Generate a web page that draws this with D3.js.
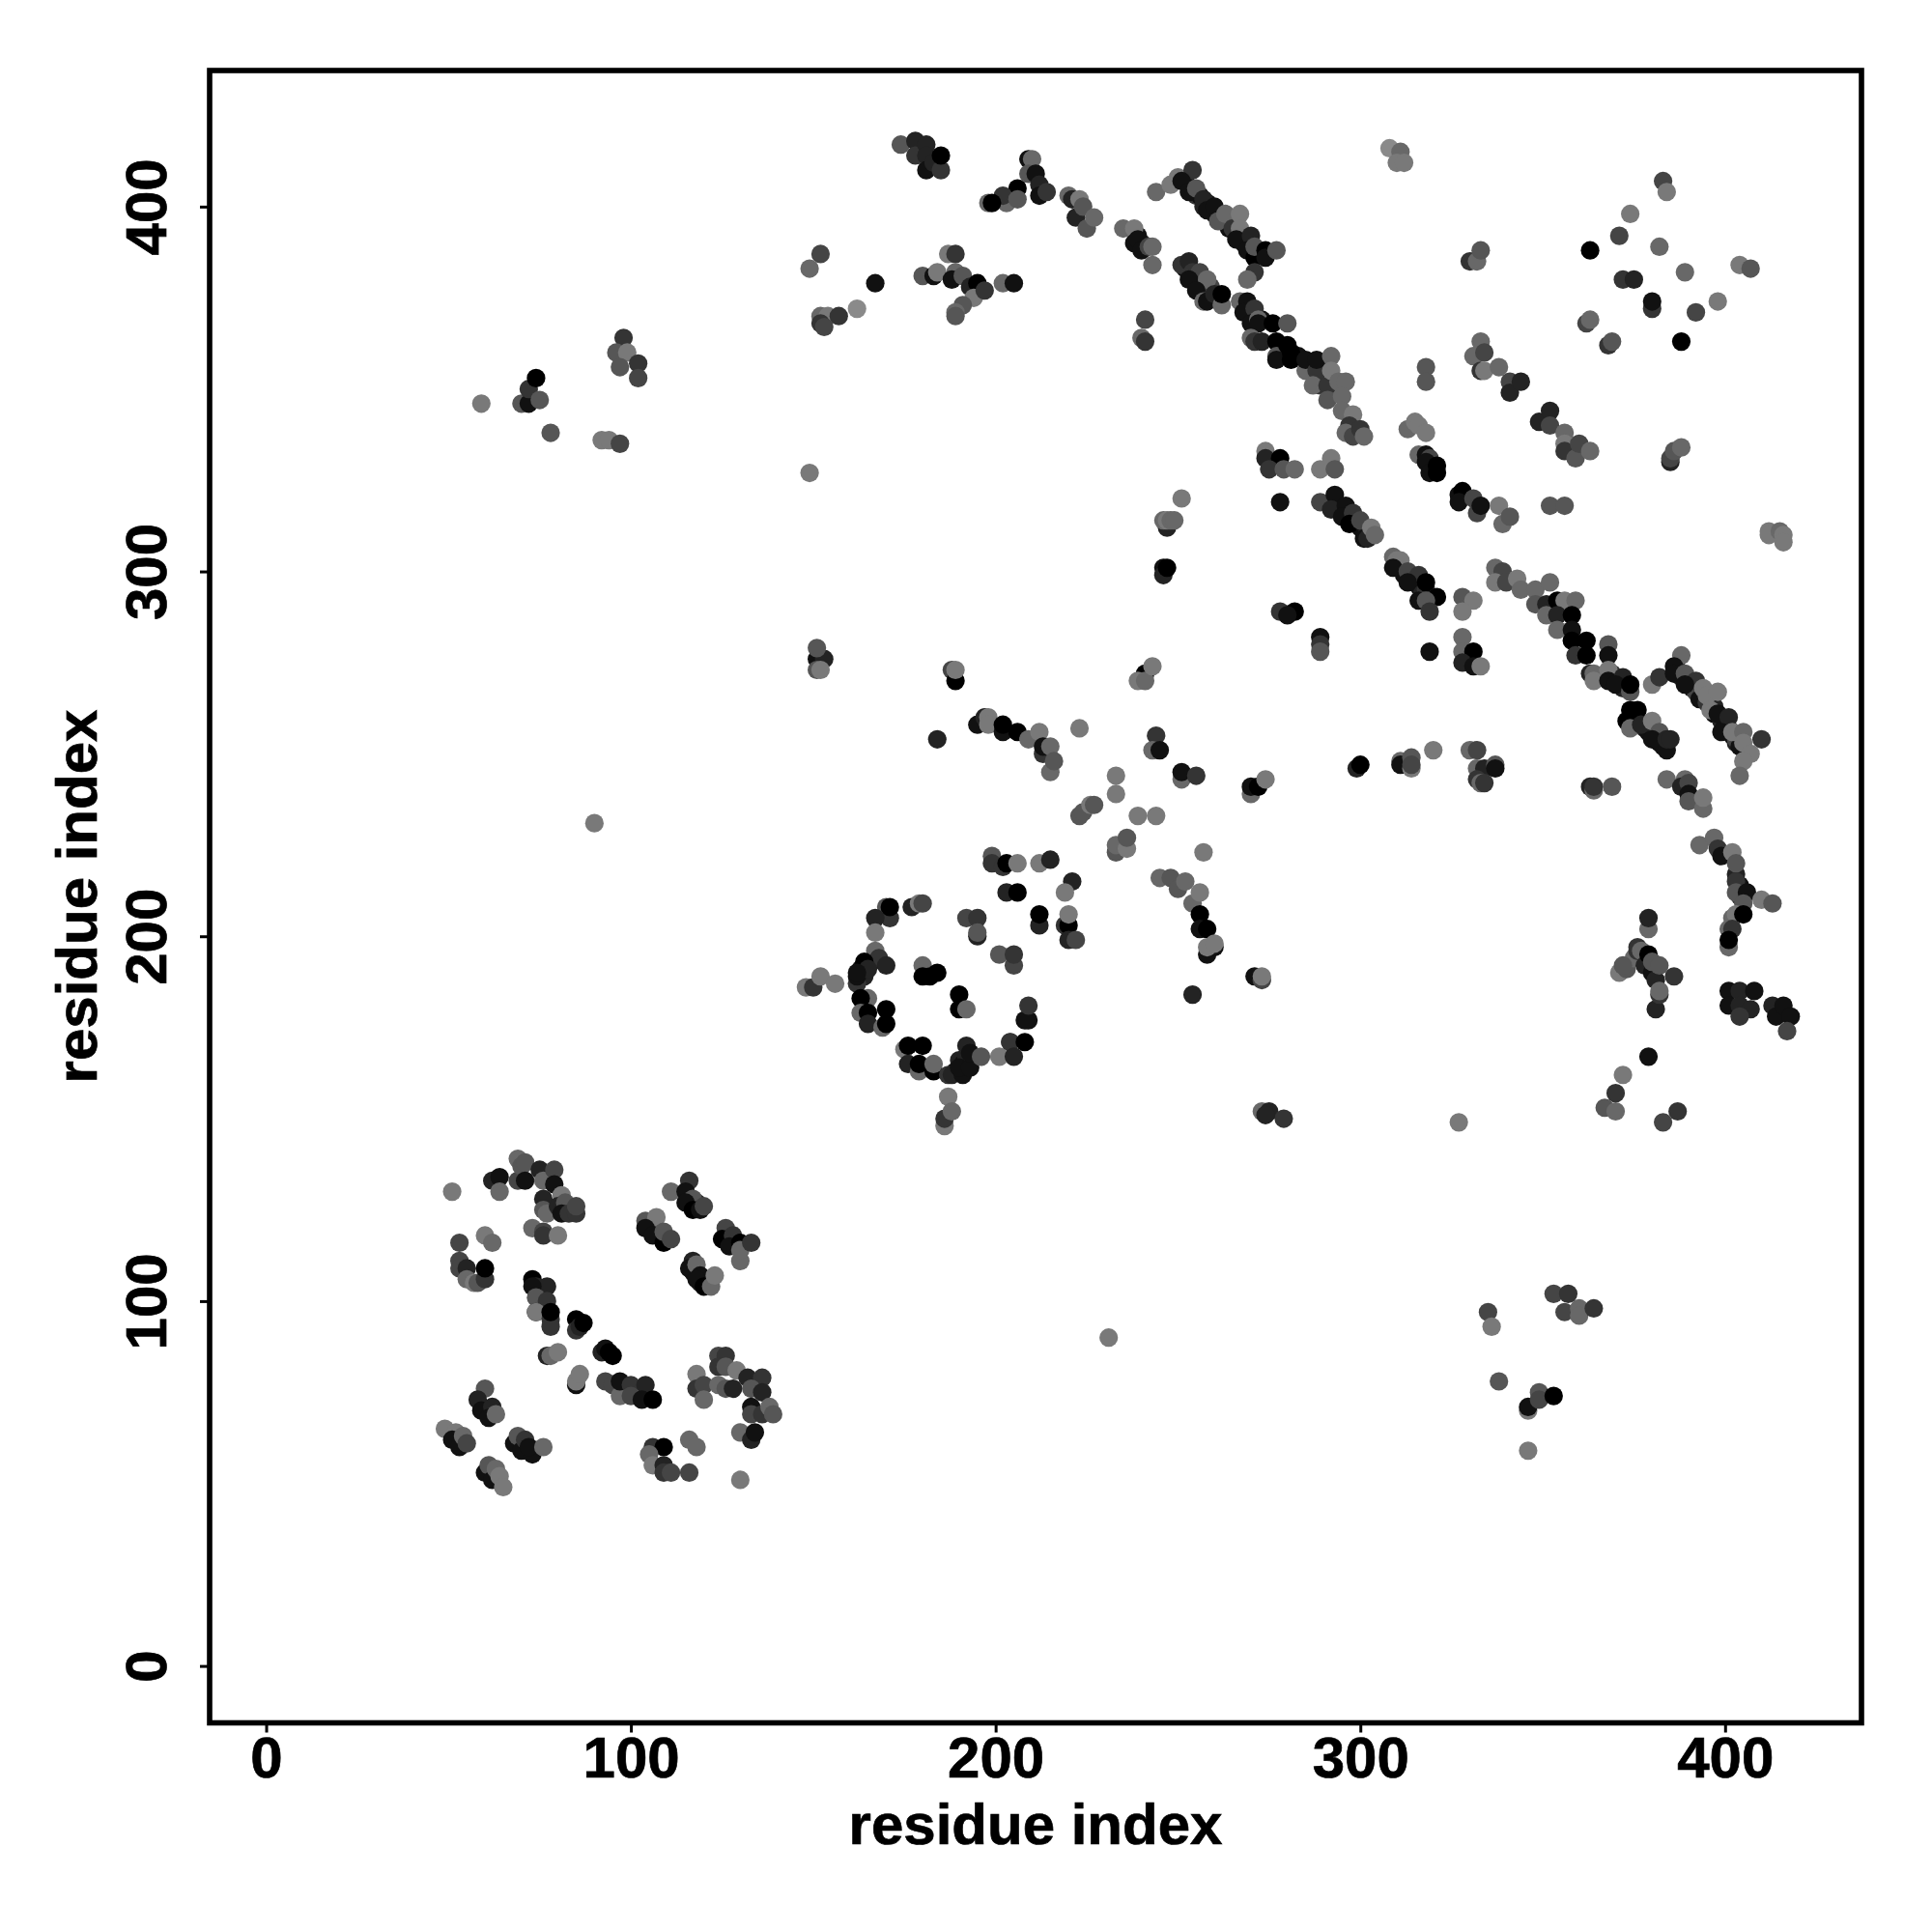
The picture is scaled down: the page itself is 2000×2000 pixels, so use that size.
<!DOCTYPE html>
<html><head><meta charset="utf-8">
<script src="https://cdn.jsdelivr.net/npm/d3@7"></script>
<style>html,body{margin:0;padding:0;background:#fff}svg{display:block}</style>
</head><body><div id="chart"></div>
<script>
// each contact: [residue i, residue j, shade 0 (black) .. 8 (light gray)]
const bandCores=[[252,407,2],[254,405,1],[255,403,3],[256,403,1],[257,400,2],[258,401,1],[259,399,3],[260,398,1],[262,396,2],[264,394,1],[266,393,3],[268,390,1],[270,389,2],[272,387,1],[252,383,1],[254,381,2],[255,380,1],[257,378,1],[258,377,2],[259,378,4],[260,375,1],[239,392,1],[240,390,2],[241,389,1],[268,373,2],[270,371,1],[271,369,3],[273,369,1],[283,359,1],[286,357,2],[290,356,3],[290,353,1],[289,351,3],[293,350,5],[294,318,2],[296,316,1],[299,314,3],[300,312,1],[302,311,2],[311,301,2],[312,299,1],[314,298,3],[316,296,1],[317,294,2],[318,295,3],[366,271,1],[369,272,3],[371,270,1],[372,268,2],[375,261,0],[376,259,1],[378,257,2],[379,256,1],[381,255,3],[382,253,1],[383,252,1],[387,273,1],[388,271,2],[390,270,3],[391,268,1],[392,267,4],[393,265,1],[395,264,3],[397,263,2],[397,261,1],[399,259,2],[400,258,1],[401,257,3],[402,255,1],[403,253,2],[403,254,4],[404,252,1],[403,217,2],[404,214,1],[404,211,3],[189,163,1],[190,166,2],[191,165,1],[192,167,2],[163,191,1],[164,189,2],[166,193,1],[116,128,1],[118,127,2],[105,121,1],[107,119,2],[108,118,0],[126,118,1],[127,117,2],[129,116,1],[117,108,1],[119,105,2],[121,106,1]];
const lowerTopLeft=[[51,130,7],[62,133,2],[64,134,1],[64,130,6],[69,139,6],[69,133,4],[70,137,5],[71,138,5],[71,133,1],[75,136,2],[76,133,6],[79,136,4],[79,132,1],[76,128,2],[76,125,5],[77,124,6],[81,129,7],[80,126,2],[82,127,5],[81,124,1],[83,124,3],[85,124,3],[85,126,4],[73,120,6],[76,119,4],[76,118,3],[80,118,7]];
const lowerLeft=[[53,116,4],[60,118,7],[62,116,6],[53,111,4],[53,109,4],[55,109,2],[55,106,6],[57,105,7],[58,105,5],[60,106,3],[60,109,0]];
const lowerStem=[[73,106,0],[74,104,2],[77,104,2],[73,104,1],[74,101,5],[77,100,3],[74,97,1],[74,97,7],[78,95,3],[78,93,3],[78,97,0],[85,95,0],[85,92,3],[86,93,2],[87,94,0],[77,85,2],[78,85,6],[80,86,7],[85,77,1],[85,78,7],[86,80,7],[92,86,2],[93,87,1],[94,86,0],[95,85,0],[93,78,4],[95,77,4],[97,74,6],[97,78,1],[100,77,3],[100,74,4],[104,77,2],[103,73,1],[106,73,0]];
const lowerPairs=[[116,133,3],[111,130,6],[115,130,1],[117,128,5],[115,127,1],[117,125,0],[119,125,1],[120,126,4],[104,122,5],[107,123,7],[104,120,1],[106,118,1],[109,116,0],[109,119,5],[111,117,4],[126,120,4],[125,117,0],[128,118,3],[127,115,1],[130,116,0],[130,111,6],[130,114,6],[133,116,3],[117,111,2],[116,109,1],[118,110,6],[119,107,1],[118,106,1],[120,104,0],[122,104,6],[123,107,7]];
const lowerRight=[[124,85,4],[126,85,3],[124,82,3],[126,82,5],[129,81,7],[118,80,7],[118,76,3],[120,77,4],[120,73,6],[124,77,6],[126,76,5],[128,76,2],[132,79,2],[136,79,3],[133,76,5],[136,75,2],[133,71,1],[133,69,4],[136,69,3],[138,71,6],[139,69,5],[130,64,6],[133,62,2],[134,64,1],[130,51,7]];
const lowerCentre=[[106,60,3],[109,60,0],[105,58,6],[106,55,7],[109,55,2],[109,53,3],[111,53,4],[116,53,4],[116,62,6],[118,60,6]];
const lowerBottom=[[60,76,5],[58,73,2],[59,70,1],[62,71,2],[61,68,1],[63,69,6],[49,65,7],[52,64,7],[51,62,1],[53,60,1],[54,63,6],[55,61,4],[68,61,1],[69,63,5],[70,59,1],[71,62,3],[73,58,1],[72,60,1],[76,60,6],[60,53,1],[61,55,5],[62,51,1],[63,54,6],[64,52,7],[65,49,7]];
const farLeft=[[59,346,7],[70,346,5],[72,346,1],[72,350,3],[74,353,0],[75,347,5],[78,338,5],[98,364,3],[96,360,5],[99,360,7],[97,356,5],[102,357,3],[102,353,4],[92,336,7],[94,336,7],[97,335,4],[149,327,7],[90,231,7],[231,90,7],[327,149,7]];
const ringTop=[[151,276,1],[153,276,2],[151,279,5],[151,273,5],[152,273,7],[188,273,4],[189,270,0],[189,273,7],[241,272,0],[239,270,7],[241,270,6],[243,274,7],[184,254,2],[195,258,1],[197,260,2],[198,260,7],[198,258,7],[202,256,1],[202,258,0],[206,256,0],[209,254,6],[212,256,7],[213,250,3],[213,252,1],[215,252,6],[215,245,6],[216,248,5],[223,257,7],[244,255,3],[243,251,6],[245,251,1],[251,243,6],[251,245,1],[255,244,3],[270,239,6],[270,241,1],[272,241,0],[274,243,7],[233,244,7],[233,239,7],[239,233,7],[244,233,7],[223,233,5],[224,234,5],[226,236,7],[227,236,5],[233,223,5],[233,225,6],[236,224,7],[236,227,5],[257,223,7],[245,216,6],[248,216,5],[250,213,5],[252,215,6],[254,209,6],[256,212,7],[256,206,0],[256,202,1],[258,202,0],[258,195,1],[260,197,1],[258,197,7],[260,198,7],[254,184,2],[271,189,1],[273,188,4],[273,189,7]];
const ringUpper=[[199,222,5],[199,220,3],[202,219,3],[203,220,0],[206,220,7],[212,220,7],[215,221,2],[221,215,2],[219,212,7],[203,212,2],[206,212,0],[212,203,2],[212,206,0],[219,203,3],[220,203,0],[220,206,7],[220,199,2],[222,199,4],[170,208,5],[171,205,3],[171,208,0],[167,205,2],[167,201,7],[177,208,2],[179,209,7],[180,209,4],[192,205,4],[195,205,3],[195,200,2],[195,201,5],[201,195,5],[205,192,4],[205,195,3],[180,192,6],[180,189,0],[182,189,0],[184,190,0],[190,184,0],[190,180,0],[192,180,6],[209,177,1],[208,177,1],[209,181,3]];
const ringLeft=[[167,196,6],[168,194,3],[170,192,2],[164,193,0],[162,187,3],[162,189,1],[165,191,2],[162,190,1],[148,186,7],[150,186,3],[152,189,7],[156,187,7],[165,183,6],[163,183,0],[163,179,6],[165,179,0],[170,180,0],[165,176,2],[169,175,6],[170,176,0],[175,169,7],[176,170,0],[180,170,0],[176,165,2],[179,163,6],[179,165,0],[183,163,0],[183,165,6],[187,162,3],[188,162,2],[191,162,1],[190,164,1],[193,164,1],[192,170,2],[193,168,1],[196,167,5],[201,167,7],[204,171,5],[204,171,3],[205,167,2],[208,171,0],[187,156,7],[186,148,7],[186,150,3],[188,152,6],[273,152,6],[275,152,2],[274,151,2],[279,150,3]];
const topBands=[[174,417,5],[178,418,2],[178,414,3],[181,417,2],[181,414,2],[181,410,1],[183,412,2],[185,410,3],[185,414,0],[209,413,1],[210,413,6],[209,409,5],[211,409,1],[212,406,2],[212,403,1],[214,404,3],[206,405,0],[203,401,6],[202,403,3],[206,402,5],[198,401,6],[199,401,0],[220,403,6],[221,402,2],[223,402,7],[222,397,2],[224,400,5],[225,394,5],[227,397,6],[152,387,4],[149,383,6],[167,379,1],[162,372,8],[152,370,6],[154,370,7],[152,368,3],[153,367,4],[157,370,3],[187,387,7],[189,387,3],[180,381,5],[183,381,1],[184,382,7],[189,382,6],[188,380,1],[191,381,5],[193,378,2],[195,379,0],[194,375,7],[197,377,3],[191,373,5],[189,371,6],[189,370,5],[202,379,6],[205,379,1]];
const strandOne=[[308,416,8],[311,415,6],[310,412,7],[312,412,7],[244,404,6],[248,406,7],[250,408,7],[254,410,3],[251,407,1],[253,404,1],[255,405,5],[257,402,2],[258,399,1],[260,400,1],[261,396,5],[263,398,6],[265,394,3],[267,398,7],[267,394,7],[266,391,1],[270,392,2],[269,388,1],[271,386,0],[271,389,5],[274,388,0],[274,386,1],[277,388,5],[271,382,3],[269,380,6],[235,394,6],[238,394,7],[238,390,1],[239,391,1],[240,388,1],[242,389,4],[243,389,6],[243,384,6],[241,369,4],[240,364,6],[241,363,3]];
const strandTwo=[[251,384,3],[253,385,2],[254,382,3],[256,382,4],[253,380,1],[258,380,6],[255,377,1],[257,374,6],[258,374,1],[260,376,2],[262,373,6],[262,376,0],[267,374,6],[269,374,1],[268,371,1],[271,372,3],[270,368,1],[272,369,6],[272,368,1],[276,368,0],[280,368,5],[270,364,6],[271,363,3],[273,363,2],[277,363,0],[277,359,5],[277,358,1],[280,362,0],[281,360,0],[281,358,0],[285,355,6],[285,358,1],[288,355,3],[288,358,1],[287,351,6],[291,351,3],[291,347,5],[292,359,6],[292,355,7],[294,352,6],[296,352,6],[295,348,6],[295,344,6],[298,343,7],[297,340,3],[296,338,6],[298,337,4],[300,339,3],[301,337,6],[318,356,5],[318,352,5]];
const strandThree=[[330,385,3],[332,385,6],[333,388,5],[333,363,6],[331,359,6],[334,360,4],[333,355,3],[334,355,7],[338,356,6],[341,352,4],[341,349,2],[344,352,2],[349,341,2],[352,344,2],[352,340,4],[356,338,6],[356,335,7],[356,333,3],[359,331,5],[360,335,4],[363,333,6],[313,339,6],[315,341,7],[316,340,7],[318,338,7],[316,332,6],[318,332,1],[319,331,4],[318,330,1],[319,327,1],[321,329,0],[321,327,0],[327,321,1],[328,322,0],[327,319,1],[331,320,4],[332,316,4],[333,318,1],[338,318,7],[339,313,6],[341,315,5],[352,318,5],[356,318,5],[274,333,7],[274,331,2],[278,331,0],[275,328,3],[279,328,5],[282,328,6],[289,328,7],[292,331,7],[293,328,5],[251,320,7],[247,312,2],[246,314,6],[247,314,7],[248,314,6],[249,314,6],[278,319,1],[289,319,4],[293,321,1],[292,317,2],[296,318,1],[295,315,1],[298,316,3],[297,313,0],[300,314,4],[301,309,1],[302,309,2],[303,312,7],[304,310,6],[246,301,1],[246,299,2],[247,301,0],[278,289,3],[282,289,0],[280,288,1],[289,282,1],[289,280,3],[289,278,5]];
const strandFour=[[412,311,7],[412,310,7],[415,311,6],[416,310,7],[416,308,7],[309,304,6],[310,303,7],[311,303,7],[309,301,1],[313,300,4],[316,299,3],[313,297,1],[318,297,0],[316,292,1],[321,293,0],[318,292,5],[319,289,3],[328,293,5],[331,292,7],[328,289,7],[328,282,6],[319,278,1],[328,278,6],[331,278,0],[328,275,2],[331,274,1],[333,274,7],[337,301,6],[339,300,4],[337,297,7],[340,297,4],[343,298,7],[344,295,6],[348,295,6],[352,297,6],[348,291,5],[351,291,2],[351,288,6],[354,292,0],[356,292,7],[359,292,6],[354,288,2],[358,288,0],[354,284,6],[358,284,1],[358,281,0],[362,281,0],[359,277,3],[362,277,0],[368,280,5],[368,277,1],[363,272,2],[364,272,6],[364,270,7],[368,273,7],[368,270,1],[372,271,2],[370,269,1],[374,267,5],[374,269,0],[380,269,7],[382,271,3],[374,262,0],[376,262,0],[373,259,0],[374,257,6],[377,258,2],[380,259,7],[382,256,5],[380,254,1],[384,251,1],[384,254,2],[385,254,2]];
const strandFive=[[388,277,6],[386,274,1],[386,272,1],[389,272,5],[392,270,3],[389,269,1],[394,268,7],[395,266,7],[398,267,7],[396,262,7],[398,261,1],[401,260,2],[399,256,1],[402,256,7],[405,256,6],[405,253,7],[410,254,3],[407,250,7],[405,248,7],[404,244,6],[363,241,2],[364,240,6],[364,241,3],[369,241,5],[384,243,6],[389,243,6],[388,241,2],[390,242,4],[390,239,1],[390,237,5],[394,235,6],[394,238,7],[393,225,6],[397,227,6],[398,224,3],[399,222,1],[402,223,7],[403,220,5],[403,215,3],[403,212,5],[406,212,1],[405,209,5],[410,210,7],[413,209,5],[402,205,6],[403,206,7],[405,206,0],[401,202,6],[402,202,3],[401,197,6],[401,199,0]];
const lateral=[[311,248,6],[311,247,1],[314,246,7],[314,249,5],[314,247,4],[320,251,7],[330,251,6],[332,251,4],[332,246,6],[334,246,2],[337,247,5],[337,246,1],[332,243,3],[333,242,6],[334,242,3],[299,246,2],[300,247,0]];
const rightLow=[[335,97,4],[336,93,7],[338,78,5],[346,70,7],[346,71,1],[349,75,5],[349,73,4],[353,74,0],[346,59,7],[353,102,4],[357,102,3],[356,97,4],[360,98,6],[360,96,6],[364,98,3],[379,167,1],[383,149,4],[387,152,3],[367,153,5],[370,152,6],[370,157,3],[372,162,7],[379,202,6],[379,205,2],[371,190,7],[373,191,5],[375,194,6],[372,192,5],[376,196,3],[376,197,3],[377,196,6],[378,192,2],[379,195,0],[380,190,1],[380,193,5],[381,188,2],[382,192,5],[381,180,2],[382,184,3],[382,185,6],[386,189,3]];
const rightEdge=[[401,185,1],[404,185,2],[401,181,1],[404,181,2],[407,180,2],[408,185,1],[404,178,3],[413,181,2],[414,178,1],[416,181,1],[418,178,1],[417,174,4]];
const diamond=[[363,388,0],[371,392,4],[374,398,7],[383,407,4],[384,404,7],[382,389,6],[389,382,6],[372,380,3],[375,380,2],[380,372,3],[380,374,1],[362,368,4],[363,369,6],[368,362,3],[369,363,5],[392,371,4],[388,363,0],[398,374,7],[404,384,7],[407,383,5],[385,330,2],[385,331,4],[386,333,5],[388,334,6]];

const allContacts=[bandCores,lowerTopLeft,lowerLeft,lowerStem,lowerPairs,lowerRight,lowerCentre,lowerBottom,farLeft,ringTop,ringUpper,ringLeft,topBands,strandOne,strandTwo,strandThree,strandFour,strandFive,lateral,rightLow,rightEdge,diamond].flat();
const xTicks=[0,100,200,300,400];
const yTicks=[0,100,200,300,400];
const xLabel="residue index", yLabel="residue index";

const svg=d3.select("#chart").append("svg").attr("width",2000).attr("height",2000).attr("viewBox","0 0 2000 2000");
const font='"Liberation Sans",Arial,sans-serif';
const x=d3.scaleLinear().domain([-15.5,437.4]).range([217,1927]);
const y=d3.scaleLinear().domain([-15.6,437.3]).range([1783.5,73]);
const shade=d3.scaleLinear().domain([0,8]).range(["#000000","#8a8a8a"]);

svg.append("g").selectAll("circle").data(allContacts).join("circle")
  .attr("cx",d=>x(d[0])).attr("cy",d=>y(d[1])).attr("r",9.6).attr("fill",d=>shade(d[2]));

const gx=svg.append("g").attr("transform","translate(0,1783.5)")
  .call(d3.axisBottom(x).tickValues(xTicks).tickSize(10).tickPadding(4));
gx.select(".domain").remove();
gx.selectAll("line").attr("stroke","#000").attr("stroke-width",3);
gx.selectAll("text").attr("font-family",font).attr("font-weight","bold").attr("font-size",60).attr("fill","#000").attr("stroke","#000").attr("stroke-width",0.7).attr("dy",null).attr("y",56.5);

const gy=svg.append("g").attr("transform","translate(217,0)")
  .call(d3.axisLeft(y).tickValues(yTicks).tickSize(10));
gy.select(".domain").remove();
gy.selectAll("line").attr("stroke","#000").attr("stroke-width",3);
gy.selectAll("text").attr("font-family",font).attr("font-weight","bold").attr("font-size",60).attr("fill","#000").attr("stroke","#000").attr("stroke-width",0.7)
  .attr("dy",null).attr("x",null).attr("text-anchor","middle").attr("transform","translate(-45,0) rotate(-90)");

svg.append("rect").attr("x",217).attr("y",73).attr("width",1710).attr("height",1710.5)
  .attr("fill","none").attr("stroke","#000").attr("stroke-width",5.6);

svg.append("text").attr("x",1072).attr("y",1909).attr("text-anchor","middle").attr("font-family",font).attr("font-weight","bold").attr("font-size",60).attr("stroke","#000").attr("stroke-width",0.7).text(xLabel);
svg.append("text").attr("transform","translate(99.5,928) rotate(-90)").attr("text-anchor","middle").attr("font-family",font).attr("font-weight","bold").attr("font-size",60).attr("stroke","#000").attr("stroke-width",0.7).text(yLabel);
</script></body></html>
